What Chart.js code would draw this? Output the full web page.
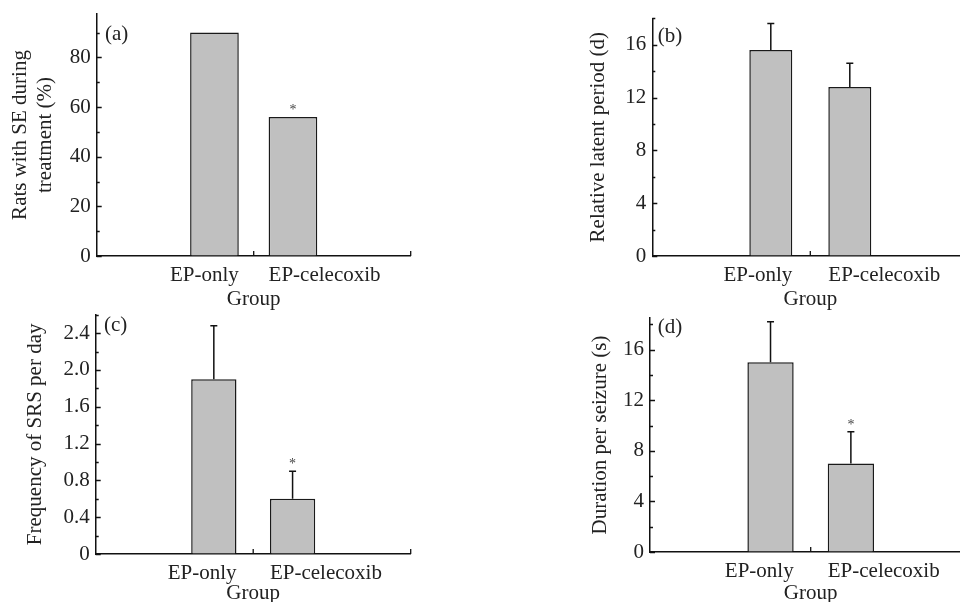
<!DOCTYPE html>
<html><head><meta charset="utf-8">
<script src="https://cdn.jsdelivr.net/npm/chart.js@4.4.0/dist/chart.umd.min.js"></script>
<style>
html,body{margin:0;padding:0;background:#fff;width:960px;height:602px;overflow:hidden;position:relative}
canvas{position:absolute;display:block}
</style></head><body>
<canvas id="ca" width="480" height="320" style="left:0;top:0"></canvas>
<canvas id="cb" width="500" height="320" style="left:480px;top:0"></canvas>
<canvas id="cc" width="480" height="320" style="left:0;top:300px"></canvas>
<canvas id="cd" width="500" height="320" style="left:480px;top:300px"></canvas>
<script>
// ---------- data ----------
const groups = ['EP-only', 'EP-celecoxib'];

const ratsSE = [90, 56];              // (a) Rats with SE during treatment (%)
const ratsSEerr = [null, null];
const ratsSig = [false, true];

const latentMean = [15.6, 12.8];      // (b) Relative latent period (d)
const latentErr = [2.0, 1.8];
const latentSig = [false, false];

const srsMean = [1.9, 0.6];           // (c) Frequency of SRS per day
const srsErr = [0.58, 0.3];
const srsSig = [false, true];

const durMean = [15.0, 7.0];          // (d) Duration per seizure (s)
const durErr = [3.2, 2.5];
const durSig = [false, true];

const ticksA = ['0', '20', '40', '60', '80'];
const minorA = [10, 30, 50, 70, 90];
const ticksB = ['0', '4', '8', '12', '16'];
const minorB = [2, 6, 10, 14, 18];
const ticksC = ['0', '0.4', '0.8', '1.2', '1.6', '2.0', '2.4'];
const minorC = [0.2, 0.6, 1.0, 1.4, 1.8, 2.2, 2.6];
const ticksD = ['0', '4', '8', '12', '16'];
const minorD = [2, 6, 10, 14, 18];

// ---------- drawing ----------
const FONT = "'Liberation Serif', 'Times New Roman', serif";
const TXT = '#222';
const INK = '#111';
Chart.defaults.font.family = FONT;

const decor = {
  id: 'decor',
  afterDatasetsDraw(chart, args, o) {
    const ctx = chart.ctx, ys = chart.scales.y;
    const meta = chart.getDatasetMeta(0);
    ctx.save();
    ctx.strokeStyle = INK; ctx.lineWidth = 1.5;
    o.values.forEach((v, i) => {
      const bar = meta.data[i + 1];
      let top = bar.y;
      const e = o.errors[i];
      if (e != null) {
        const yt = ys.getPixelForValue(v + e);
        ctx.beginPath();
        ctx.moveTo(bar.x, bar.y); ctx.lineTo(bar.x, yt);
        ctx.moveTo(bar.x - 3.5, yt); ctx.lineTo(bar.x + 3.5, yt);
        ctx.stroke();
        top = yt;
      }
      if (o.sig[i]) {
        ctx.fillStyle = '#444';
        ctx.font = '14px ' + FONT;
        ctx.textAlign = 'center'; ctx.textBaseline = 'middle';
        ctx.fillText('*', bar.x, top - 7);
      }
    });
    ctx.restore();
  },
  afterDraw(chart, args, o) {
    const ctx = chart.ctx, xs = chart.scales.x, ys = chart.scales.y;
    const ca = chart.chartArea;
    const meta = chart.getDatasetMeta(0);
    ctx.save();
    ctx.strokeStyle = INK; ctx.lineWidth = 1.3;
    // inward y ticks
    ctx.beginPath();
    o.major.forEach(v => { const p = Math.round(ys.getPixelForValue(v)) + 0.5; ctx.moveTo(ca.left, p); ctx.lineTo(ca.left + 5, p); });
    o.minor.forEach(v => { const p = Math.round(ys.getPixelForValue(v)) + 0.5; ctx.moveTo(ca.left, p); ctx.lineTo(ca.left + 3, p); });
    // inward x ticks (middle and end of axis)
    [0.5, 1].forEach(d => { const p = xs.getPixelForDecimal(d); ctx.moveTo(p, ca.bottom); ctx.lineTo(p, ca.bottom - 5); });
    ctx.stroke();
    // category labels
    ctx.fillStyle = TXT; ctx.font = '21px ' + FONT; ctx.textBaseline = 'middle';
    groups.forEach((g, i) => {
      const bar = meta.data[i + 1];
      if (i === 0) { ctx.textAlign = 'right'; ctx.fillText(g, bar.x + bar.width / 2, ca.bottom + 19.5); }
      else { ctx.textAlign = 'left'; ctx.fillText(g, bar.x - bar.width / 2, ca.bottom + 19.5); }
    });
    // panel label
    ctx.textAlign = 'left'; ctx.textBaseline = 'alphabetic';
    ctx.fillText(o.panel, ca.left + o.panelDx, o.panelY);
    ctx.restore();
  }
};

function makeChart(id, cfg) {
  const cv = document.getElementById(id);
  const W = cv.width, H = cv.height;
  const tickVals = cfg.ticks.map(Number);
  return new Chart(cv, {
    type: 'bar',
    data: {
      labels: ['', ...groups, ''],
      datasets: [{
        data: [null, ...cfg.values, null],
        backgroundColor: '#c0c0c0', borderColor: '#1a1a1a', borderWidth: 1.5,
        barPercentage: cfg.barPct, categoryPercentage: 1
      }]
    },
    options: {
      responsive: false, animation: false,
      layout: { padding: { left: 0, top: cfg.area.top, right: W - cfg.area.right, bottom: 0 } },
      plugins: {
        legend: { display: false }, tooltip: { enabled: false },
        decor: {
          values: cfg.values, errors: cfg.errors, sig: cfg.sig,
          major: tickVals, minor: cfg.minor,
          panel: cfg.panel, panelDx: cfg.panelDx, panelY: cfg.panelY
        }
      },
      scales: {
        x: {
          type: 'category', offset: true,
          grid: { display: true, drawOnChartArea: false, drawTicks: false },
          border: { display: true, color: INK, width: 1.5 },
          ticks: { display: false },
          title: { display: true, text: 'Group', color: TXT, font: { size: 21, family: FONT }, padding: { top: 0, bottom: cfg.groupPad } },
          afterFit: s => { s.height = H - cfg.area.bottom; s.paddingLeft = 0; s.paddingRight = 0; }
        },
        y: {
          type: 'linear', min: 0, max: cfg.max,
          afterBuildTicks: s => { s.ticks = tickVals.map(v => ({ value: v })); },
          grid: { display: true, drawOnChartArea: false, drawTicks: false },
          border: { display: true, color: INK, width: 1.5 },
          ticks: { color: TXT, font: { size: 21, family: FONT }, padding: 6,
                   callback: (v, i) => cfg.ticks[i] },
          title: { display: true, text: cfg.yTitle, color: TXT, font: { size: 21, family: FONT }, padding: { top: cfg.titlePad, bottom: 0 } },
          afterFit: s => { s.width = cfg.area.left; s.paddingTop = 0; s.paddingBottom = 0; }
        }
      }
    },
    plugins: [decor]
  });
}

makeChart('ca', {
  values: ratsSE, errors: ratsSEerr, sig: ratsSig,
  ticks: ticksA, minor: minorA, max: 97.5,
  yTitle: ['Rats with SE during', 'treatment (%)'], titlePad: 7.9, groupPad: 8.4,
  area: { left: 96.7, right: 410.7, top: 14, bottom: 256 }, barPct: 0.62,
  panel: '(a)', panelDx: 8.3, panelY: 40
});
makeChart('cb', {
  values: latentMean, errors: latentErr, sig: latentSig,
  ticks: ticksB, minor: minorB, max: 18,
  yTitle: 'Relative latent period (d)', titlePad: 105.4, groupPad: 8.4,
  area: { left: 172.3, right: 488.3, top: 18.3, bottom: 256 }, barPct: 0.544,
  panel: '(b)', panelDx: 5.4, panelY: 42
});
makeChart('cc', {
  values: srsMean, errors: srsErr, sig: srsSig,
  ticks: ticksC, minor: minorC, max: 2.6,
  yTitle: 'Frequency of SRS per day', titlePad: 22.4, groupPad: 13.8,
  area: { left: 95.7, right: 410.7, top: 14.7, bottom: 254 }, barPct: 0.575,
  panel: '(c)', panelDx: 8.3, panelY: 31
});
makeChart('cd', {
  values: durMean, errors: durErr, sig: durSig,
  ticks: ticksD, minor: minorD, max: 18.5,
  yTitle: 'Duration per seizure (s)', titlePad: 108.2, groupPad: 13.8,
  area: { left: 170, right: 491.4, top: 18, bottom: 252 }, barPct: 0.576,
  panel: '(d)', panelDx: 7.7, panelY: 33
});
</script>
</body></html>
